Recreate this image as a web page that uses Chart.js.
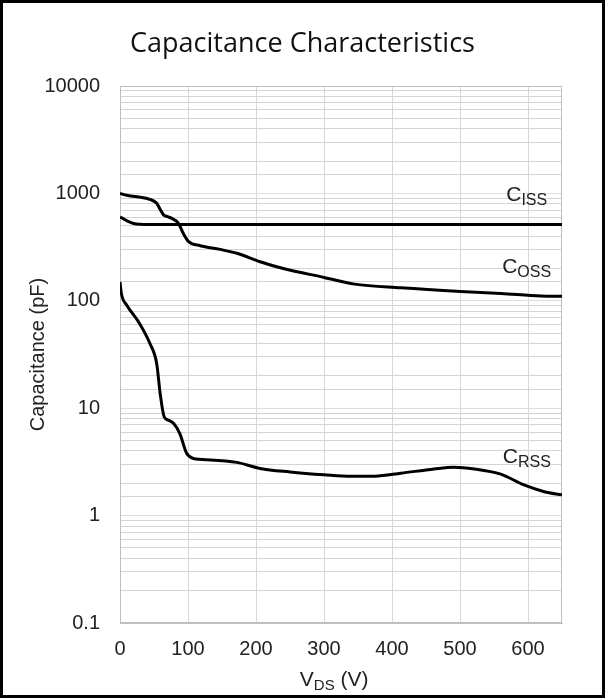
<!DOCTYPE html>
<html>
<head>
<meta charset="utf-8">
<script src="https://cdn.jsdelivr.net/npm/chart.js@4.4.1/dist/chart.umd.min.js"></script>
<style>
  html, body { margin: 0; padding: 0; background: #fff; }
  #wrap { width: 605px; height: 698px; }
</style>
</head>
<body>
<div id="wrap"><canvas id="grafico"></canvas></div>
<script>
// Dados: tensão VDS (V) e capacitância (pF)
const cissV  = [0, 5, 12, 20, 30, 40, 650];
const cissPF = [600, 580, 548, 525, 515, 512, 512];

const cossV  = [0, 10, 25, 44, 54, 59, 64, 70, 76, 86, 93, 101, 118, 147, 172, 206, 240, 300, 345, 413, 501, 560, 619, 650];
const cossPF = [1000, 960, 931, 881, 809, 711, 631, 607, 586, 527, 425, 355, 326, 301, 277, 231, 200, 165, 143, 132, 122, 117, 111, 110];

const crssV  = [0, 2, 10, 27, 44, 54, 59, 65, 72, 79, 88, 98, 108, 133, 172, 206, 250, 300, 340, 375, 413, 462, 491, 521, 560, 594, 624, 650];
const crssPF = [150, 117, 91, 64, 40, 26, 13.8, 8.3, 7.7, 7.2, 5.8, 3.8, 3.4, 3.3, 3.13, 2.75, 2.55, 2.4, 2.32, 2.33, 2.48, 2.72, 2.82, 2.72, 2.43, 1.93, 1.67, 1.56];

// Rótulos das curvas
const nomes = ['ISS', 'OSS', 'RSS'];
const xTicks = [0, 100, 200, 300, 400, 500, 600];

const FONTE = "'Liberation Sans', Arial, sans-serif";

// junta os arrays em pontos {x, y}
function pontos(vs, cs) {
  return vs.map((v, i) => ({ x: v, y: cs[i] }));
}

function ehDecada(v) {
  const l = Math.log10(v);
  return Math.abs(l - Math.round(l)) < 1e-9;
}

// desenha "C" + subscrito
function comSubscrito(ctx, base, sub, x, y, t1, t2, dy) {
  ctx.font = t1 + 'px ' + FONTE;
  const w1 = ctx.measureText(base).width;
  ctx.fillText(base, x, y);
  ctx.font = t2 + 'px ' + FONTE;
  ctx.fillText(sub, x + w1, y + dy);
}

// posição dos rótulos (V, pF)
const ancoras = [
  { v: 568, c: 855 },
  { v: 562, c: 183 },
  { v: 563, c: 3.07 }
];

const extras = {
  id: 'extras',
  beforeDatasetsDraw(chart) {
    const { ctx, chartArea: a } = chart;
    ctx.save();
    ctx.strokeStyle = '#bfbfbf';
    ctx.lineWidth = 1;
    ctx.strokeRect(a.left + 0.5, a.top + 0.5, a.right - a.left - 1, a.bottom - a.top - 1);
    ctx.restore();
  },
  afterDraw(chart) {
    const ctx = chart.ctx, sx = chart.scales.x, sy = chart.scales.y;
    ctx.save();
    ctx.fillStyle = '#222';
    ctx.textBaseline = 'alphabetic';
    ctx.textAlign = 'left';
    nomes.forEach((n, i) => {
      comSubscrito(ctx, 'C', n, sx.getPixelForValue(ancoras[i].v), sy.getPixelForValue(ancoras[i].c), 21, 16, 4);
    });

    // título do eixo x com subscrito
    ctx.font = '21px ' + FONTE;
    const wa = ctx.measureText('V').width, wc = ctx.measureText(' (V)').width;
    ctx.font = '15px ' + FONTE;
    const wb = ctx.measureText('DS').width;
    let x0 = sx.getPixelForValue(315) - (wa + wb + wc) / 2;
    const yb = 686;
    ctx.font = '21px ' + FONTE;
    ctx.fillText('V', x0, yb);
    ctx.font = '15px ' + FONTE;
    ctx.fillText('DS', x0 + wa, yb + 4);
    ctx.font = '21px ' + FONTE;
    ctx.fillText(' (V)', x0 + wa + wb, yb);

    // moldura
    ctx.strokeStyle = '#000';
    ctx.lineWidth = 3;
    ctx.strokeRect(1.5, 1.5, chart.width - 3, chart.height - 3);
    ctx.restore();
  }
};

const serie = (vs, cs) => ({
  data: pontos(vs, cs),
  borderColor: '#000',
  borderWidth: 3,
  pointRadius: 0,
  cubicInterpolationMode: 'monotone',
  fill: false
});

new Chart(document.getElementById('grafico'), {
  type: 'line',
  data: {
    datasets: [serie(cissV, cissPF), serie(cossV, cossPF), serie(crssV, crssPF)]
  },
  options: {
    responsive: true,
    maintainAspectRatio: false,
    animation: false,
    layout: { padding: 0 },
    plugins: {
      legend: { display: false },
      tooltip: { enabled: false },
      title: {
        display: true,
        text: 'Capacitance Characteristics',
        color: '#111',
        font: { family: "'Open Sans', 'Noto Sans', sans-serif", size: 27, weight: 'normal', lineHeight: 1.2 },
        padding: { top: 28.5, bottom: 25.1 }
      }
    },
    scales: {
      x: {
        type: 'linear',
        min: 0,
        max: 650,
        afterBuildTicks: s => { s.ticks = xTicks.map(v => ({ value: v })); },
        afterFit: s => { s.height = 75; },
        ticks: {
          color: '#222',
          font: { family: FONTE, size: 20 },
          padding: 14,
          maxRotation: 0
        },
        grid: {
          color: '#d9d9d9',
          drawTicks: false,
          borderDash: [3, 2]
        },
        border: { color: '#bfbfbf' }
      },
      y: {
        type: 'logarithmic',
        min: 0.1,
        max: 10000,
        afterFit: s => { s.width = 120; },
        title: {
          display: true,
          text: 'Capacitance (pF)',
          color: '#222',
          font: { family: FONTE, size: 20 },
          padding: { top: 26, bottom: 0 }
        },
        ticks: {
          autoSkip: false,
          color: '#222',
          font: { family: FONTE, size: 20 },
          padding: 20,
          callback: v => ehDecada(v) ? String(Number(v.toPrecision(6))) : ''
        },
        grid: {
          drawTicks: false,
          color: c => ehDecada(c.tick.value) ? '#dedede' : '#d4d4d4',
          borderDash: c => ehDecada(c.tick.value) ? [3, 2] : []
        },
        border: { color: '#bfbfbf' }
      },
      // eixo vazio à direita, só para reservar a margem
      margem: {
        type: 'linear',
        position: 'right',
        afterFit: s => { s.width = 43; },
        ticks: { display: false },
        grid: { display: false },
        border: { display: false }
      }
    }
  },
  plugins: [extras]
});
</script>
</body>
</html>
